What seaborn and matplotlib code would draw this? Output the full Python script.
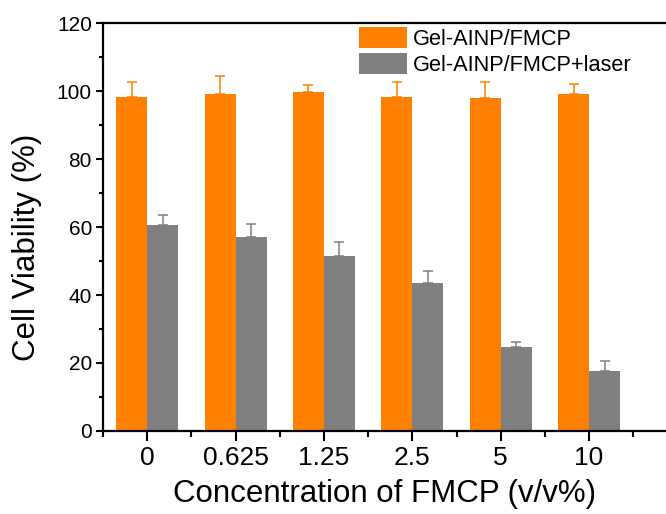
import matplotlib
matplotlib.use("Agg")
import matplotlib.pyplot as plt
import seaborn as sns
import pandas as pd
import numpy as np
from matplotlib.ticker import MultipleLocator

sns.set_style("ticks")
plt.rcParams['font.family'] = ['Liberation Sans', 'DejaVu Sans']
plt.rcParams['text.color'] = 'black'
plt.rcParams['axes.labelcolor'] = 'black'
plt.rcParams['xtick.color'] = 'black'
plt.rcParams['ytick.color'] = 'black'

concentrations = ["0", "0.625", "1.25", "2.5", "5", "10"]
groups = ["Gel-AINP/FMCP", "Gel-AINP/FMCP+laser"]
viability_dark = [98.1, 99.1, 99.6, 98.3, 98.0, 99.1]
err_dark = [4.6, 5.4, 2.3, 4.4, 4.7, 3.1]
viability_laser = [60.5, 57.0, 51.5, 43.6, 24.7, 17.6]
err_laser = [2.9, 4.0, 4.0, 3.6, 1.6, 2.9]

colors = ["#FF8000", "#808080"]

df = pd.DataFrame({
    "conc": concentrations * 2,
    "group": [groups[0]] * 6 + [groups[1]] * 6,
    "viability": viability_dark + viability_laser,
    "err": err_dark + err_laser,
})

fig = plt.figure(figsize=(6.66, 5.14), dpi=100)
ax = fig.add_axes([103/666, 1 - 431/514, 1 - 103/666, (431 - 23)/514])

sns.barplot(data=df, x="conc", y="viability", hue="group", order=concentrations,
            hue_order=groups, palette=colors, width=0.7, errorbar=None,
            linewidth=0, saturation=1, ax=ax)

# error bars (upper only), positioned from the drawn bars
bars = [p for p in ax.patches if p.get_height() > 0][:12]
for i, g in enumerate(groups):
    sub = df[df.group == g]
    gb = bars[i*6:(i+1)*6]
    xs = [b.get_x() + b.get_width()/2 for b in gb]
    ys = sub["viability"].values
    es = sub["err"].values
    ax.errorbar(xs, ys, yerr=[np.zeros_like(es), es], fmt="none",
                ecolor=colors[i], elinewidth=1.1, capsize=3.6, capthick=1.1, zorder=1)

ax.set_ylim(0, 120)
ax.set_xlim(-0.494, 5.87)
ax.yaxis.set_major_locator(MultipleLocator(20))
ax.yaxis.set_minor_locator(MultipleLocator(10))
ax.set_xticks(range(6))
ax.set_xticks(np.arange(-0.5, 6, 1), minor=True)
ax.tick_params(axis="both", which="major", width=1.5, length=5, color="black")
ax.tick_params(axis="both", which="minor", width=1.5, length=3, color="black")
ax.tick_params(axis="y", which="major", labelsize=15, pad=3)
ax.tick_params(axis="x", which="major", length=7, labelsize=19, pad=4)
ax.tick_params(axis="x", which="minor", length=4)

for s in ["left", "bottom", "top"]:
    ax.spines[s].set_linewidth(1.6)
    ax.spines[s].set_color("black")
ax.spines["right"].set_visible(False)

ax.set_xlabel("Concentration of FMCP (v/v%)", fontsize=22.5, va="center")
ax.set_ylabel("Cell Viability (%)", fontsize=22.5, va="center")
ax.xaxis.set_label_coords((385 - 103) / 563, (431 - 494) / 408)
ax.yaxis.set_label_coords((27 - 103) / 563, (431 - 247.5) / 408)

ax.legend(loc="upper left", bbox_to_anchor=(359/666, 1 - 27/514), bbox_transform=fig.transFigure,
          frameon=False, fontsize=15.7, borderpad=0, borderaxespad=0,
          handlelength=2.2, handleheight=1.1, handletextpad=0.28, labelspacing=0.14, title=None)

fig.savefig("out.png", dpi=100)
